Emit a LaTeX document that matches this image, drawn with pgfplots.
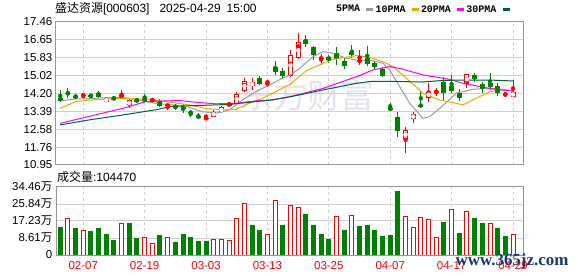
\documentclass[border=0pt]{standalone}
\usepackage{pgfplots}
\pgfplotsset{compat=1.18}
\usepackage{pgfplotstable}
\usepackage{fontspec}
\setmainfont{Liberation Sans}
\newfontfamily\cjk{Noto Sans CJK SC}
\newfontfamily\monof{Liberation Mono}
\newfontfamily\seriff{Liberation Serif}

\definecolor{kred}{RGB}{255,0,0}
\definecolor{kgreen}{RGB}{0,128,0}
\definecolor{maA}{RGB}{155,155,155}
\definecolor{maB}{RGB}{245,165,0}
\definecolor{maC}{RGB}{255,0,255}
\definecolor{maD}{RGB}{0,100,50}
\definecolor{gridc}{RGB}{208,208,208}
\definecolor{framec}{RGB}{150,150,150}
\definecolor{wmgray}{RGB}{228,228,234}
\definecolor{navy}{RGB}{30,52,115}

% candles: index, open, high, low, close
\pgfplotstableread{
i o h l c
0 14.01 14.36 13.81 13.86
1 14.22 14.43 14.01 14.18
2 14.08 14.16 13.96 14.04
4 14.12 14.19 13.98 14.08
5 14.22 14.33 14.01 14.05
7 13.99 14.08 13.90 13.95
10 13.93 14.00 13.80 13.82
11 13.93 14.18 13.85 13.89
13 13.81 13.97 13.57 13.64
15 13.62 13.71 13.45 13.58
16 13.60 13.71 13.30 13.48
17 13.36 13.42 13.12 13.32
18 13.17 13.30 13.03 13.12
26 14.89 15.00 14.60 14.64
28 15.42 15.66 15.05 15.18
29 15.22 15.34 14.90 14.99
32 16.63 16.86 16.32 16.43
33 16.30 16.36 15.72 15.95
35 15.87 15.95 15.60 15.72
36 16.02 16.33 15.49 15.76
37 15.69 15.87 15.31 15.45
38 16.10 16.40 15.80 15.96
40 15.80 16.36 15.45 15.55
41 15.60 15.69 15.27 15.39
42 15.30 15.42 14.94 14.99
43 13.52 13.75 13.48 13.48
44 13.14 13.37 12.21 12.51
47 13.67 14.33 13.63 13.63
50 14.71 14.96 13.87 14.24
51 14.56 15.04 14.21 14.33
52 14.24 14.39 13.87 14.01
54 15.04 15.12 14.73 14.86
55 14.62 14.73 14.24 14.39
56 14.66 15.12 14.36 14.48
57 14.54 14.66 14.10 14.20
}\kGreen

\pgfplotstableread{
i o h l c
6 13.83 14.04 13.79 13.96
9 13.66 13.95 13.53 13.89
20 13.14 13.45 13.12 13.37
21 13.34 13.63 13.30 13.57
23 13.72 14.28 13.66 14.18
24 14.33 14.90 14.26 14.75
25 14.53 14.88 14.36 14.72
30 15.00 16.17 14.93 15.95
31 15.80 16.93 15.75 16.52
45 12.12 12.69 11.51 12.54
46 13.03 13.37 12.87 13.27
48 14.01 14.66 13.83 14.28
53 14.62 15.10 14.43 15.08
59 14.05 14.81 14.05 14.26
}\kRedHollow

\pgfplotstableread{
i o h l c
3 14.10 14.21 13.96 14.14
8 14.05 14.36 13.93 14.14
12 13.88 13.99 13.81 13.92
14 13.62 13.74 13.45 13.70
19 13.05 13.26 13.03 13.09
22 13.65 13.83 13.58 13.75
27 14.69 14.80 14.48 14.73
34 15.78 16.00 15.49 15.82
39 15.66 16.17 15.49 15.70
49 14.26 14.43 14.08 14.30
58 14.14 14.28 14.02 14.18
}\kRedFilled

% volume (10k shares)
\pgfplotstableread{
i v
0 13.7
2 13.2
4 11.7
5 13.2
6 10.6
7 7.6
9 16.2
10 8.6
13 10.1
15 6.1
16 10.6
17 9.1
18 6.6
19 6.6
25 15.2
26 12.2
29 14.7
32 20.3
33 15.2
34 10.6
35 7.9
37 12.2
39 14.2
40 15.2
41 12.2
42 9.6
43 10.1
44 32.4
50 16.7
52 11.1
54 18.6
55 16.2
57 13.2
58 9.6
}\volG

\pgfplotstableread{
i v
1 18.6
3 12.5
8 16.0
11 9.0
12 5.9
14 9.0
20 7.9
21 7.9
22 7.4
23 18.6
24 26.2
27 10.6
28 27.7
30 25.3
31 24.2
36 19.6
38 20.1
45 19.6
46 14.0
47 19.1
48 18.1
49 9.0
51 23.1
53 22.1
56 16.0
59 10.447
}\volR

\pgfplotsset{
  wick/.style={only marks, mark=none, forget plot, color=#1,
    error bars/.cd, y dir=both, y explicit, error mark=none,
    error bar style={draw=#1, line width=1bp, solid}},
  body/.style 2 args={only marks, mark=none, forget plot, color=#1,
    error bars/.cd, y dir=both, y explicit, error mark=none,
    error bar style={draw=#1, line width=#2, solid}},
}

\begin{document}
\begin{tikzpicture}
\path[use as bounding box] (0bp,0bp) rectangle (578bp,276bp);

% faint watermark
\node[text=wmgray, font=\cjk\fontsize{34}{34}\selectfont, anchor=center, inner sep=0pt] at (307bp,181bp) {东方财富};

% title
\node[anchor=west, font=\fontsize{12}{14}\selectfont, inner sep=0pt] at (55bp,267.5bp)
  {{\cjk 盛达资源}[000603]\hspace{10bp}2025-04-29\hspace{6bp}15:00};
\node[anchor=west, font=\fontsize{12}{14}\selectfont, inner sep=0pt] at (57bp,99.3bp)
  {{\cjk 成交量}:104470};

\begin{axis}[
  at={(56bp,111bp)}, anchor=south west,
  scale only axis, width=467bp, height=143.3bp,
  xmin=-0.55, xmax=60.3, ymin=10.95, ymax=17.46,
  xtick={3,11,19,27,35,43,51,59}, xticklabels={},
  ytick={10.95,11.76,12.58,13.39,14.20,15.02,15.83,16.65,17.46},
  yticklabels={10.95,11.76,12.58,13.39,14.20,15.02,15.83,16.65,17.46},
  /pgf/number format/assume math mode=true,
  xmajorgrids, ymajorgrids,
  x grid style={gridc, dash pattern=on 3bp off 3bp, line width=1bp},
  y grid style={gridc, line width=1bp},
  major tick length=0pt,
  axis line style={framec, line width=1bp},
  yticklabel style={font=\fontsize{11.5}{12}\selectfont, anchor=east, inner sep=0pt, xshift=-3.5bp},
  legend plot pos=right,
  legend columns=4,
  legend image code/.code={\draw[#1, line width=2.5bp] (0bp,0bp) -- (7bp,0bp);},
  legend style={at={(1,1)}, anchor=south east, xshift=-12bp, yshift=7bp,
    draw=none, fill=none, inner sep=0pt,
    font=\monof\bfseries\fontsize{10}{11}\selectfont,
    nodes={inner sep=1bp},
    /tikz/every odd column/.append style={column sep=4bp}},
]
% wicks
\addplot[wick=kgreen] table[x=i, y expr={(\thisrow{h}+\thisrow{l})/2}, y error expr={(\thisrow{h}-\thisrow{l})/2}] {\kGreen};
\addplot[wick=kred] table[x=i, y expr={(\thisrow{h}+\thisrow{l})/2}, y error expr={(\thisrow{h}-\thisrow{l})/2}] {\kRedHollow};
\addplot[wick=kred] table[x=i, y expr={(\thisrow{h}+\thisrow{l})/2}, y error expr={(\thisrow{h}-\thisrow{l})/2}] {\kRedFilled};
% bodies
\addplot[body={kgreen}{5bp}] table[x=i, y expr={(\thisrow{o}+\thisrow{c})/2}, y error expr={(\thisrow{o}-\thisrow{c})/2}] {\kGreen};
\addplot[body={kred}{5bp}] table[x=i, y expr={(\thisrow{o}+\thisrow{c})/2}, y error expr={(\thisrow{c}-\thisrow{o})/2}] {\kRedFilled};
\addplot[body={kred}{5bp}] table[x=i, y expr={(\thisrow{o}+\thisrow{c})/2}, y error expr={(\thisrow{c}-\thisrow{o})/2}] {\kRedHollow};
\addplot[body={white}{3bp}] table[x=i, y expr={(\thisrow{o}+\thisrow{c})/2}, y error expr={(\thisrow{c}-\thisrow{o})/2-0.0454}] {\kRedHollow};

% moving averages
\addplot[maA, line width=1bp, mark=none] coordinates {
(-0.04,13.86) (2.04,13.95) (3.78,13.96) (5.95,14.01) (8.12,14.02) (10.29,13.90) (12.46,13.75) (14.63,13.68) (16.8,13.57) (18.54,13.37) (20.27,13.30) (22.01,13.45) (23.74,13.90) (25.48,14.28) (27.22,14.58) (28.96,14.89) (30,15.04) (31.2,15.34) (32.95,15.87) (34.25,16.10) (35.55,16.02) (37.29,15.80) (38.59,15.72) (40.76,15.69) (42.06,15.57) (42.93,15.27) (44.23,14.51) (45.54,13.75) (47.27,13.07) (48.14,13.15) (49.44,13.52) (51.61,14.21) (53.78,14.39) (55.95,14.43) (57.68,14.36) (59,14.33)
};
\addlegendentry{5PMA}
\addplot[maB, line width=1bp, mark=none] coordinates {
(-0.04,13.52) (2.04,13.83) (3.78,13.90) (8.12,13.98) (11.16,13.95) (13.76,13.83) (16.8,13.68) (18.97,13.52) (21.14,13.45) (22.88,13.48) (24.61,13.75) (26.35,13.98) (28.09,14.28) (30,14.63) (32.08,15.24) (34.25,15.57) (35.55,15.75) (38.59,15.92) (40.33,15.84) (42.06,15.64) (43.37,15.42) (45.1,14.89) (47.27,14.21) (49.44,13.90) (51.61,13.75) (52.48,13.68) (54.21,13.98) (55.95,14.28) (57.68,14.39) (59,14.33)
};
\addlegendentry{10PMA}
\addplot[maC, line width=1bp, mark=none] coordinates {
(-0.04,12.84) (3.78,13.16) (8.12,13.52) (11.16,13.83) (15.5,13.88) (17.67,13.80) (20.27,13.73) (22.88,13.75) (25.48,13.86) (27.65,13.91) (30,14.06) (34.25,14.43) (38.59,14.96) (40.76,15.27) (42.93,15.42) (44.23,15.34) (47.27,15.04) (50.74,14.84) (52.48,14.66) (55.95,14.43) (58.77,14.31) (59,14.30)
};
\addlegendentry{20PMA}
\addplot[maD, line width=1bp, mark=none] coordinates {
(-0.04,12.77) (3.78,13.00) (8.12,13.22) (12.46,13.46) (14.63,13.62) (18.5,13.66) (22,13.70) (25.48,13.83) (27.65,13.91) (30,14.05) (34.25,14.36) (38.59,14.66) (40.5,14.75) (43,14.75) (47.27,14.72) (49.44,14.78) (51.61,14.81) (55.95,14.81) (58.77,14.77) (59,14.77)
};
\addlegendentry{30PMA}
\end{axis}

\begin{axis}[
  at={(56bp,21bp)}, anchor=south west,
  scale only axis, width=467bp, height=68bp,
  xmin=-0.55, xmax=60.3, ymin=0, ymax=34.46,
  xtick={3,11,19,27,35,43,51,59},
  xticklabels={02-07,02-19,03-03,03-13,03-25,04-07,04-17,04-29},
  ytick={0,8.61,17.23,25.84,34.46},
  yticklabels={0,{8.61{\cjk 万}},{17.23{\cjk 万}},{25.84{\cjk 万}},{34.46{\cjk 万}}},
  /pgf/number format/assume math mode=true,
  xmajorgrids, ymajorgrids,
  x grid style={gridc, dash pattern=on 3bp off 3bp, line width=1bp},
  y grid style={gridc, line width=1bp},
  major tick length=0pt,
  axis line style={framec, line width=1bp},
  yticklabel style={font=\fontsize{11.5}{12}\selectfont, anchor=east, inner sep=0pt, xshift=-3.5bp},
  xticklabel style={font=\fontsize{11.5}{12}\selectfont, text=kred, anchor=north, inner sep=0pt, yshift=-6.7bp},
]
\addplot[ybar, bar width=4bp, bar shift=0pt, fill=kgreen, draw=kgreen, line width=1bp] table[x=i, y=v] {\volG};
\addplot[ybar, bar width=4bp, bar shift=0pt, fill=white, draw=kred, line width=1bp] table[x=i, y=v] {\volR};
\end{axis}

\node[text=navy, font=\seriff\bfseries\fontsize{17}{17}\selectfont, anchor=center, inner sep=0pt] at (512bp,15bp) {www.365jz.com};
\end{tikzpicture}
\end{document}
